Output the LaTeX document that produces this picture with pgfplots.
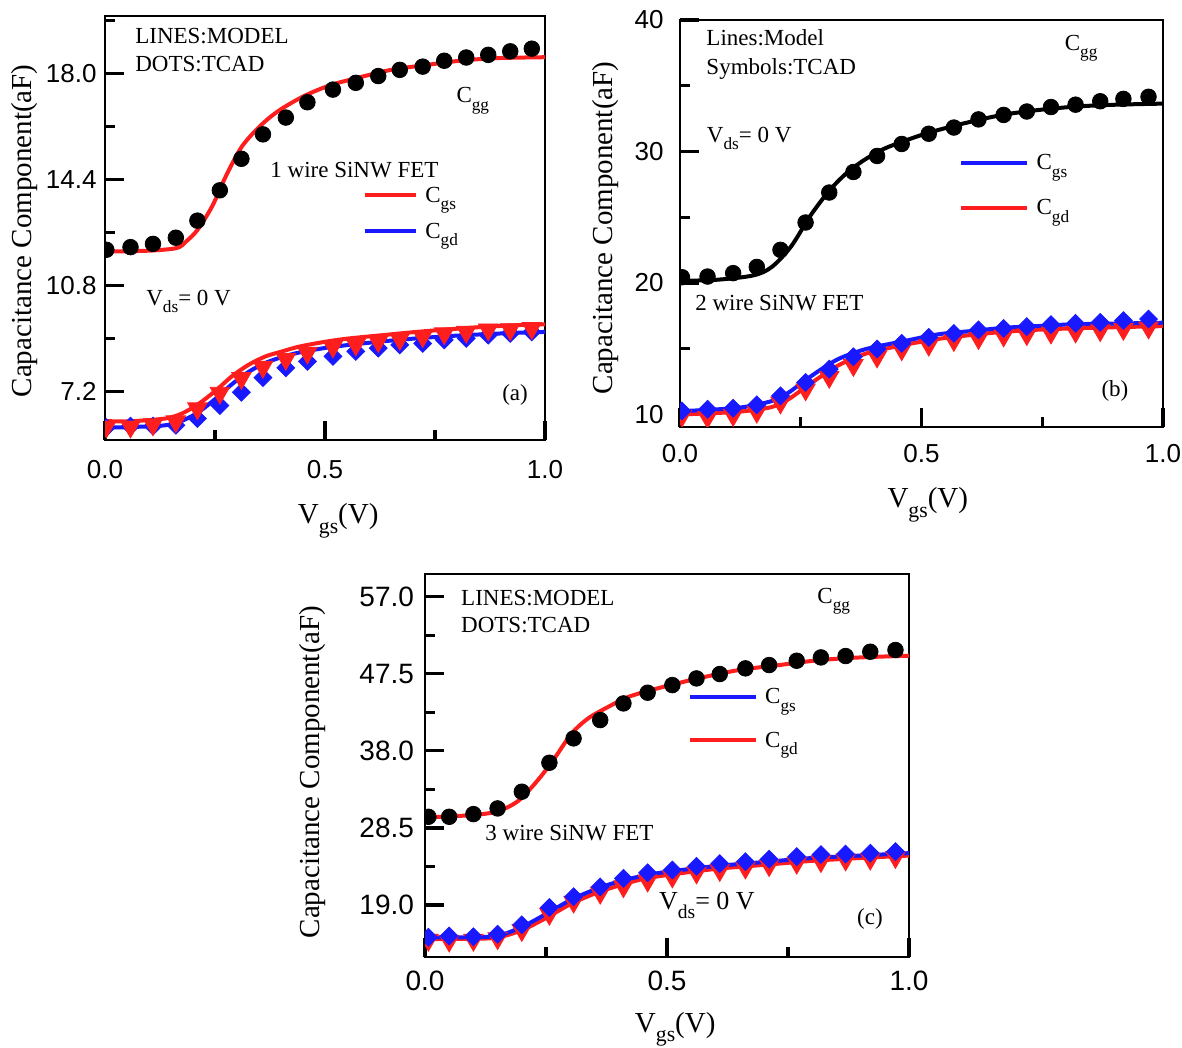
\documentclass[border=0pt]{standalone}
\usepackage{fontspec}
\setmainfont{Liberation Serif}
\setsansfont{Liberation Sans}
\usepackage{graphicx}
\usepackage{pgfplots}
\pgfplotsset{compat=1.18}

\definecolor{cred}{RGB}{255,30,30}
\definecolor{cblue}{RGB}{25,25,255}

% lowered, reduced subscript in the text font
\newcommand\sub[1]{\raisebox{-0.32em}{\scalebox{0.75}{#1}}}

\tikzset{note/.style={anchor=base west, inner sep=0pt, font=\fontsize{11.5}{13}\selectfont}}

\pgfplotsset{
  capbase/.style={
    scale only axis,
    xmin=0, xmax=1,
    axis line style={line width=1.4pt},
    tick style={black, line width=1.6pt},
    major tick length=9.5pt, minor tick length=4.8pt,
    tick align=inside, tick pos=left,
    xtick={0,0.5,1}, minor xtick={0.25,0.75},
    /pgf/number format/assume math mode=true,
    xticklabel style={/pgf/number format/fixed, /pgf/number format/fixed zerofill, /pgf/number format/precision=1},
    ticklabel style={font=\sffamily\fontsize{13}{15}\selectfont},
    label style={font=\fontsize{14.5}{17}\selectfont},
    xlabel={V\sub{gs}(V)},
    ylabel={Capacitance Component(aF)},
    clip marker paths=true,
    legend style={draw=none, fill=none, inner sep=0pt, outer sep=0pt,
      column sep=3.5pt, anchor=north west,
      font=\fontsize{11.5}{13}\selectfont,
      cells={anchor=base west},
      nodes={inner sep=0pt, text height=8pt, text depth=6pt}},
  },
  model/.style={line width=2pt, smooth, tension=0.5, no markers, forget plot},
  dots/.style={only marks, mark=*, mark size=3.9pt, black, forget plot},
  tris/.style={only marks, mark=triangle*, mark size=5.6pt, mark options={rotate=180}, cred, forget plot},
  dias/.style={only marks, mark=square*, mark size=3.15pt, mark options={rotate=45}, cblue, forget plot},
}

\begin{document}
\begin{tikzpicture}[x=1pt,y=1pt]
\useasboundingbox (0,0) rectangle (591,524);

% ---------------- (a) 1 wire ----------------
\begin{axis}[capbase, at={(52.5pt,304pt)}, anchor=south west,
  width=220pt, height=212pt, ymin=5.55, ymax=19.95,
  ytick={7.2,10.8,14.4,18.0}, minor ytick={9.0,12.6,16.2,19.8},
  yticklabel style={/pgf/number format/fixed, /pgf/number format/fixed zerofill, /pgf/number format/precision=1, xshift=-0.7pt},
  xticklabel style={yshift=-6.6pt},
  xlabel style={at={(axis description cs:0.53,-0.198)}, anchor=base},
  ylabel style={at={(axis description cs:-0.166,0.493)}, anchor=base},
  legend style={at={(axis description cs:0.585,0.599)}, row sep=4pt},
  legend image code/.code={\draw[line width=2.2pt] (0pt,3.5pt) -- (25.75pt,3.5pt);},
]
\addplot[model, cred] coordinates {(0,11.95)(0.1,11.98)(0.163,12.07)(0.185,12.3)(0.211,12.7)(0.244,13.5)(0.276,14.55)(0.309,15.47)(0.341,16.04)(0.374,16.5)(0.407,16.85)(0.455,17.25)(0.512,17.6)(0.569,17.83)(0.650,18.12)(0.732,18.29)(0.813,18.44)(0.894,18.52)(1.0,18.55)};
\addplot[dots] coordinates {(0.003,12.01)(0.058,12.10)(0.109,12.21)(0.161,12.42)(0.21,13.00)(0.261,14.03)(0.31,15.10)(0.359,15.93)(0.411,16.50)(0.46,17.02)(0.518,17.45)(0.57,17.68)(0.621,17.91)(0.67,18.12)(0.722,18.23)(0.771,18.43)(0.821,18.54)(0.871,18.63)(0.921,18.75)(0.97,18.84)};
\addplot[model, cblue] coordinates {(0,5.97)(0.061,5.99)(0.137,6.05)(0.175,6.2)(0.213,6.5)(0.251,6.95)(0.289,7.45)(0.327,7.87)(0.365,8.17)(0.403,8.37)(0.441,8.52)(0.502,8.68)(0.555,8.78)(0.631,8.9)(0.707,9.0)(0.783,9.08)(0.859,9.14)(0.935,9.19)(1.0,9.22)};
\addplot[model, cred] coordinates {(0,6.19)(0.061,6.19)(0.137,6.28)(0.175,6.45)(0.213,6.78)(0.251,7.22)(0.289,7.72)(0.327,8.11)(0.365,8.39)(0.403,8.56)(0.441,8.72)(0.502,8.89)(0.555,9.0)(0.631,9.11)(0.707,9.22)(0.783,9.31)(0.859,9.39)(0.935,9.45)(1.0,9.48)};
\addplot[dias] coordinates {(0.003,5.97)(0.058,6.02)(0.109,6.02)(0.161,6.05)(0.21,6.28)(0.261,6.72)(0.31,7.17)(0.359,7.67)(0.411,8.00)(0.46,8.22)(0.518,8.39)(0.57,8.56)(0.621,8.67)(0.67,8.78)(0.722,8.83)(0.771,8.95)(0.821,9.00)(0.871,9.11)(0.921,9.17)(0.97,9.22)};
\addplot[tris] coordinates {(0.003,6.00)(0.058,6.00)(0.109,6.08)(0.161,6.18)(0.21,6.62)(0.261,7.15)(0.31,7.65)(0.359,8.03)(0.411,8.30)(0.46,8.51)(0.518,8.72)(0.57,8.79)(0.621,8.90)(0.67,8.98)(0.722,9.07)(0.771,9.17)(0.821,9.22)(0.871,9.30)(0.921,9.31)(0.97,9.35)};
\addlegendimage{cred}\addlegendentry{C\sub{gs}}
\addlegendimage{cblue}\addlegendentry{C\sub{gd}}
\node[note] at (axis description cs:0.068,0.934) {LINES:MODEL};
\node[note] at (axis description cs:0.068,0.868) {DOTS:TCAD};
\node[note] at (axis description cs:0.798,0.795) {C\sub{gg}};
\node[note] at (axis description cs:0.375,0.618) {1 wire SiNW FET};
\node[note] at (axis description cs:0.093,0.318) {V\sub{ds}= 0 V};
\node[note] at (axis description cs:0.902,0.094) {(a)};
\end{axis}

% ---------------- (b) 2 wire ----------------
\begin{axis}[capbase, at={(340pt,310.5pt)}, anchor=south west,
  width=241.5pt, height=203.5pt, ymin=9.05, ymax=40,
  ytick={10,20,30,40}, minor ytick={15,25,35},
  yticklabel style={xshift=-4.7pt},
  xticklabel style={yshift=-5pt},
  xlabel style={at={(axis description cs:0.513,-0.199)}, anchor=base},
  ylabel style={at={(axis description cs:-0.139,0.489)}, anchor=base},
  legend style={at={(axis description cs:0.578,0.671)}, row sep=8.5pt},
  legend image code/.code={\draw[line width=2.2pt] (0pt,3.5pt) -- (33pt,3.5pt);},
]
\addplot[model, black] coordinates {(0,20.18)(0.071,20.23)(0.151,20.57)(0.19,21.22)(0.23,22.78)(0.27,25.12)(0.31,27.06)(0.349,28.49)(0.389,29.53)(0.429,30.31)(0.508,31.35)(0.587,32.13)(0.667,32.78)(0.746,33.17)(0.825,33.43)(0.905,33.56)(1.0,33.64)};
\addplot[dots] coordinates {(0.004,20.44)(0.057,20.49)(0.110,20.75)(0.159,21.22)(0.208,22.52)(0.26,24.60)(0.309,26.88)(0.359,28.44)(0.408,29.66)(0.459,30.57)(0.515,31.35)(0.567,31.82)(0.618,32.44)(0.67,32.78)(0.718,33.04)(0.768,33.38)(0.819,33.56)(0.87,33.82)(0.918,34.00)(0.97,34.16)};
\addplot[model, cred] coordinates {(0,10.0)(0.118,10.2)(0.188,10.55)(0.222,11.1)(0.257,12.0)(0.292,12.9)(0.326,13.7)(0.361,14.3)(0.396,14.75)(0.465,15.3)(0.535,15.75)(0.604,16.05)(0.674,16.3)(0.743,16.45)(0.813,16.55)(0.882,16.62)(1.0,16.72)};
\addplot[model, cblue] coordinates {(0,10.25)(0.118,10.5)(0.188,11.0)(0.222,11.6)(0.257,12.54)(0.292,13.43)(0.326,14.19)(0.361,14.7)(0.396,15.08)(0.465,15.59)(0.535,16.1)(0.604,16.35)(0.674,16.6)(0.743,16.73)(0.813,16.86)(0.882,16.9)(1.0,16.98)};
\addplot[tris] coordinates {(0.004,9.90)(0.057,9.80)(0.110,9.95)(0.159,10.20)(0.208,10.90)(0.26,11.90)(0.309,12.85)(0.359,13.75)(0.408,14.40)(0.459,14.95)(0.515,15.30)(0.567,15.65)(0.618,15.80)(0.67,16.00)(0.718,16.10)(0.768,16.22)(0.819,16.30)(0.87,16.40)(0.918,16.50)(0.97,16.60)};
\addplot[dias] coordinates {(0.004,10.27)(0.057,10.40)(0.110,10.48)(0.159,10.73)(0.208,11.42)(0.26,12.44)(0.309,13.45)(0.359,14.39)(0.408,14.98)(0.459,15.41)(0.515,15.87)(0.567,16.17)(0.618,16.43)(0.67,16.55)(0.718,16.68)(0.768,16.83)(0.819,16.93)(0.87,17.01)(0.918,17.14)(0.97,17.26)};
\addlegendimage{cblue}\addlegendentry{C\sub{gs}}
\addlegendimage{cred}\addlegendentry{C\sub{gd}}
\node[note] at (axis description cs:0.054,0.937) {Lines:Model};
\node[note] at (axis description cs:0.054,0.865) {Symbols:TCAD};
\node[note] at (axis description cs:0.796,0.926) {C\sub{gg}};
\node[note] at (axis description cs:0.055,0.700) {V\sub{ds}= 0 V};
\node[note] at (axis description cs:0.031,0.287) {2 wire SiNW FET};
\node[note] at (axis description cs:0.872,0.074) {(b)};
\end{axis}

% ---------------- (c) 3 wire ----------------
\begin{axis}[capbase, at={(212.5pt,45.5pt)}, anchor=south west,
  width=242pt, height=191.5pt, ymin=12.6, ymax=59.8,
  ytick={19,28.5,38,47.5,57}, minor ytick={23.75,33.25,42.75,52.25},
  ticklabel style={font=\sffamily\fontsize{14}{16}\selectfont},
  yticklabel style={/pgf/number format/fixed, /pgf/number format/fixed zerofill, /pgf/number format/precision=1, xshift=-2pt},
  xticklabel style={yshift=-3.3pt},
  xlabel style={at={(axis description cs:0.517,-0.196)}, anchor=base},
  ylabel style={at={(axis description cs:-0.219,0.483)}, anchor=base},
  legend style={at={(axis description cs:0.543,0.703)}, row sep=7.7pt},
  legend image code/.code={\draw[line width=2.2pt] (0pt,3.5pt) -- (33pt,3.5pt);},
]
\addplot[model, cred] coordinates {(0,29.8)(0.101,30.1)(0.152,30.6)(0.194,31.9)(0.236,34.6)(0.27,37.3)(0.303,40.15)(0.337,42.0)(0.379,43.44)(0.421,44.67)(0.48,45.7)(0.564,46.93)(0.648,47.96)(0.732,48.58)(0.816,49.19)(0.9,49.52)(1.0,49.73)};
\addplot[dots] coordinates {(0.007,29.88)(0.05,29.88)(0.1,30.21)(0.15,30.91)(0.2,32.97)(0.257,36.54)(0.307,39.54)(0.362,41.80)(0.41,43.85)(0.46,45.17)(0.511,46.11)(0.561,46.93)(0.609,47.47)(0.662,48.17)(0.711,48.58)(0.768,49.11)(0.818,49.52)(0.869,49.69)(0.92,50.22)(0.972,50.43)};
\addplot[model, cred] coordinates {(0,14.8)(0.1,14.85)(0.15,15.0)(0.2,15.9)(0.25,17.4)(0.3,19.1)(0.35,20.4)(0.4,21.4)(0.45,22.2)(0.5,22.7)(0.6,23.45)(0.7,23.95)(0.8,24.45)(0.9,24.8)(1.0,25.1)};
\addplot[model, cblue] coordinates {(0,15.0)(0.1,15.05)(0.15,15.2)(0.2,16.3)(0.25,17.9)(0.3,19.6)(0.35,20.9)(0.4,21.9)(0.45,22.6)(0.5,23.1)(0.6,23.8)(0.7,24.3)(0.8,24.8)(0.9,25.1)(1.0,25.4)};
\addplot[tris] coordinates {(0.007,14.7)(0.05,14.6)(0.1,14.7)(0.15,14.9)(0.2,15.9)(0.257,17.9)(0.307,19.4)(0.362,20.5)(0.41,21.3)(0.46,22.0)(0.511,22.5)(0.561,23.0)(0.609,23.3)(0.662,23.6)(0.711,23.9)(0.768,24.2)(0.818,24.4)(0.869,24.6)(0.92,24.7)(0.972,24.9)};
\addplot[dias] coordinates {(0.007,15.03)(0.05,15.19)(0.1,15.09)(0.15,15.40)(0.2,16.57)(0.257,18.70)(0.307,20.03)(0.362,21.23)(0.41,22.29)(0.46,22.98)(0.511,23.32)(0.561,23.78)(0.609,24.10)(0.662,24.35)(0.711,24.66)(0.768,24.97)(0.818,25.22)(0.869,25.28)(0.92,25.39)(0.972,25.59)};
\addlegendimage{cblue}\addlegendentry{C\sub{gs}}
\addlegendimage{cred}\addlegendentry{C\sub{gd}}
\node[note] at (axis description cs:0.074,0.919) {LINES:MODEL};
\node[note] at (axis description cs:0.074,0.846) {DOTS:TCAD};
\node[note] at (axis description cs:0.81,0.924) {C\sub{gg}};
\node[note] at (axis description cs:0.124,0.305) {3 wire SiNW FET};
\node[note, font=\fontsize{13}{15}\selectfont] at (axis description cs:0.483,0.123) {V\sub{ds}= 0 V};
\node[note] at (axis description cs:0.892,0.084) {(c)};
\end{axis}
\end{tikzpicture}
\end{document}
